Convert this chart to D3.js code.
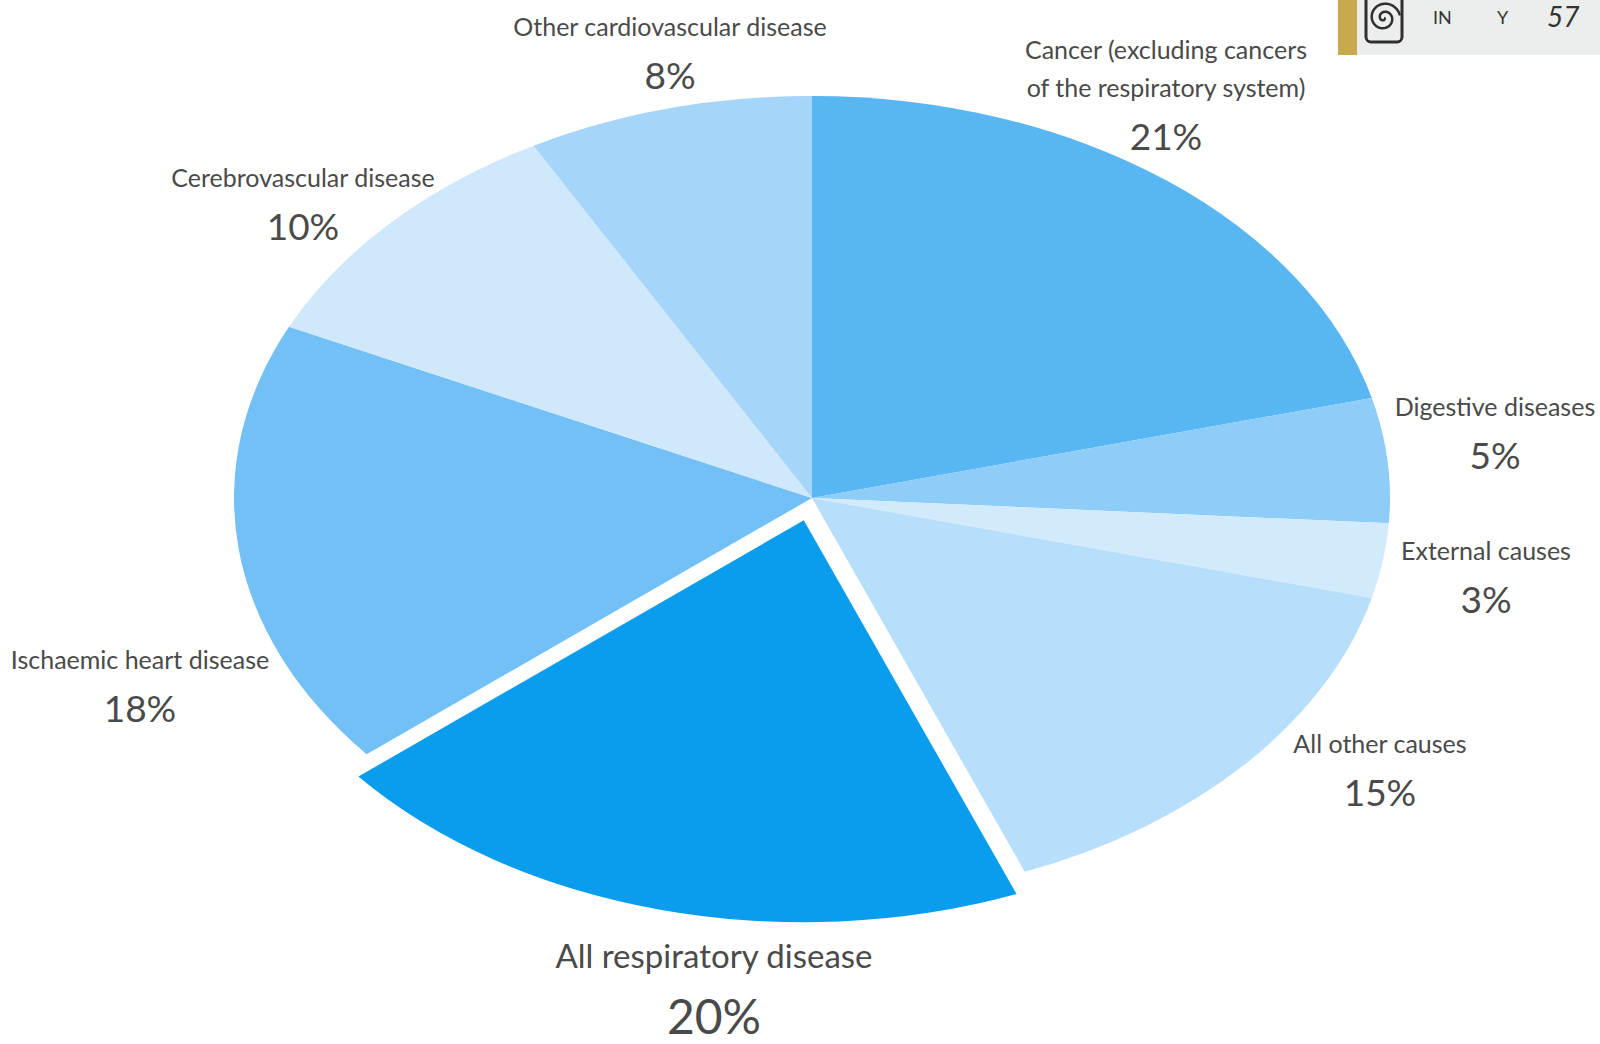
<!DOCTYPE html>
<html>
<head>
<meta charset="utf-8">
<script src="https://cdn.jsdelivr.net/npm/d3@7"></script>
<style>
  html, body { margin: 0; padding: 0; background: #ffffff; }
  svg { display: block; }
  text { font-family: Lato, "Open Sans", sans-serif; fill: #4a4a4a; }
</style>
</head>
<body>
<svg id="chart" width="1600" height="1044"></svg>
<script>
// Causes of death, share of total (%), clockwise from 12 o'clock
const causes = [
  "Cancer (excluding cancers|of the respiratory system)",
  "Digestive diseases",
  "External causes",
  "All other causes",
  "All respiratory disease",
  "Ischaemic heart disease",
  "Cerebrovascular disease",
  "Other cardiovascular disease"
];
const shares = [21, 5, 3, 15, 20, 18, 10, 8];
const colors = ["#58b6f2", "#8ecdf7", "#d2ebfc", "#b7defb", "#0a9ded", "#72c0f5", "#cfe8fc", "#a5d5f8"];
const highlighted = "All respiratory disease";

// label anchors (centre x, baseline of first line)
const labelPos = [
  [1166, 59], [1495, 416], [1486, 560], [1380, 753],
  [714, 968], [140, 669], [303, 187], [670, 36]
];

const svg = d3.select("#chart");
const cx = 812, cy = 498, rx = 578, ry = 402;

const data = causes.map((c, i) => ({ cause: c, value: shares[i], color: colors[i], pos: labelPos[i] }));

const pie = d3.pie().sort(null).value(d => d.value);
const arcs = pie(data);
const arc = d3.arc().innerRadius(0).outerRadius(ry);

// pie is drawn on a circle and stretched horizontally into an ellipse
const pieG = svg.append("g")
  .attr("transform", `translate(${cx},${cy}) scale(${rx / ry},1)`);

const explode = 23;
pieG.selectAll("path")
  .data(arcs)
  .join("path")
  .attr("d", arc)
  .attr("fill", d => d.data.color)
  .attr("transform", d => {
    if (d.data.cause !== highlighted) return null;
    const a = (d.startAngle + d.endAngle) / 2;
    return `translate(${Math.sin(a) * explode},${-Math.cos(a) * explode})`;
  });

// labels
const labels = svg.append("g");
arcs.forEach(d => {
  const big = d.data.cause === highlighted;
  const lines = d.data.cause.split("|");
  const [x, y] = d.data.pos;
  const lineH = 38;
  lines.forEach((ln, j) => {
    labels.append("text")
      .attr("x", x).attr("y", y + j * lineH)
      .attr("text-anchor", "middle")
      .attr("font-size", big ? 33 : 25)
      .text(ln);
  });
  labels.append("text")
    .attr("x", x)
    .attr("y", y + (lines.length - 1) * lineH + (big ? 66 : 53))
    .attr("text-anchor", "middle")
    .attr("font-size", big ? 48 : 37)
    .text(d.data.value + "%");
});

// scanned page-corner strip at top right
const corner = svg.append("g");
corner.append("rect").attr("x", 1357).attr("y", 0).attr("width", 243).attr("height", 55).attr("fill", "#eceeed");
corner.append("rect").attr("x", 1338).attr("y", 0).attr("width", 19).attr("height", 55).attr("fill", "#c9a94e");
corner.append("rect").attr("x", 1366).attr("y", -4).attr("width", 36).attr("height", 46).attr("rx", 5)
  .attr("fill", "none").attr("stroke", "#2f2f2f").attr("stroke-width", 3);
const spiral = d3.range(0, 4 * Math.PI, 0.2).map(t => [1384 + Math.cos(t) * t * 1.3, 18 + Math.sin(t) * t * 1.3]);
corner.append("path").attr("d", d3.line()(spiral)).attr("fill", "none").attr("stroke", "#2f2f2f").attr("stroke-width", 2.5);
corner.append("text").attr("x", 1433).attr("y", 24).attr("font-size", 18).attr("font-family", "DejaVu Serif").style("fill", "#333").text("IN");
corner.append("text").attr("x", 1497).attr("y", 24).attr("font-size", 18).attr("font-family", "DejaVu Serif").style("fill", "#333").text("Y");
corner.append("text").attr("x", 1547).attr("y", 27).attr("font-size", 28).attr("font-style", "italic").attr("font-family", "DejaVu Serif").style("fill", "#333").text("57");
</script>
</body>
</html>
